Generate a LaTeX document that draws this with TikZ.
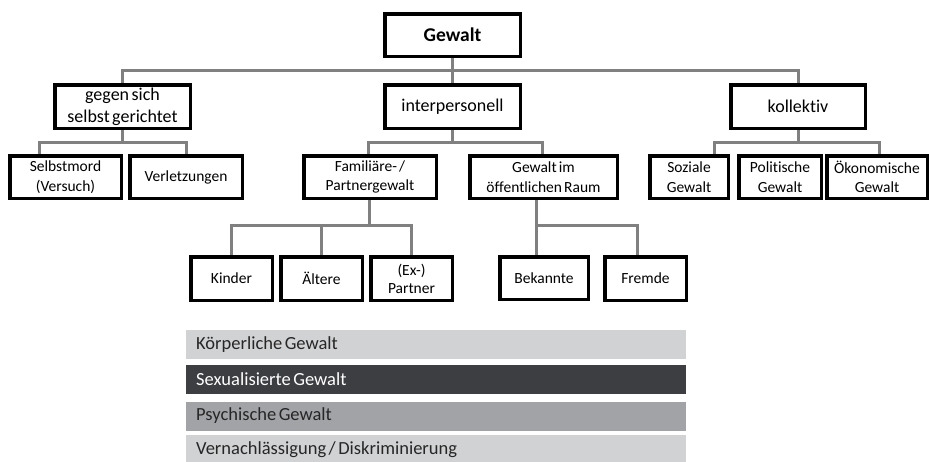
\documentclass[tikz,border=0pt]{standalone}
\usepackage{fontspec}
\setmainfont{Carlito}[Ligatures=NoCommon, WordSpace=0.6]
\usepackage{xcolor}
\usetikzlibrary{positioning, calc, backgrounds}
\definecolor{linkgray}{HTML}{808080}
\definecolor{barlight}{HTML}{D1D2D4}
\definecolor{bardark}{HTML}{3D3E42}
\definecolor{barmid}{HTML}{A1A3A6}
\definecolor{bartext}{HTML}{262626}

\begin{document}
\begin{tikzpicture}[
  x=1pt, y=-1pt,
  typbox/.style={rectangle, draw=black, line width=3.5pt, fill=white, align=center, inner sep=2pt, minimum width=#1-3.5pt, minimum height=42.5pt, font=\fontsize{15.5}{19.5}\selectfont},
  headbox/.style={typbox=#1, minimum height=43.5pt, font=\fontsize{18}{22}\selectfont},
  link/.style={draw=linkgray, line width=3pt},
  formbar/.style={rectangle, fill=#1, anchor=west, minimum width=500pt, minimum height=29pt, text width=480pt, inner xsep=10pt, align=flush left, font=\fontsize{18.5}{21}\selectfont},
]
\useasboundingbox (0,0) rectangle (929,461);

\node[headbox=139pt, minimum height=42.5pt, font=\fontsize{19.5}{22}\selectfont\bfseries] (gewalt) at (452.5, 35) {Gewalt};

% Ebene 1
\node[headbox=139pt] (selbst) at (122.5, 106.5) {gegen sich\\selbst gerichtet};
\node[headbox=139pt] (inter) at (452.5, 106.5) {interpersonell};
\node[headbox=138pt] (kollek) at (798, 106.5) {kollektiv};

% Ebene 2
\node[typbox=115pt] (smord) at (65.5, 177) {Selbstmord\\(Versuch)};
\node[typbox=116pt] (verl) at (186, 177) {Verletzungen};
\node[typbox=136pt] (famil) at (370, 177) {Familiäre- /\\Partnergewalt};
\node[typbox=151pt] (oeff) at (543.5, 177) {Gewalt im\\öffentlichen Raum};
\node[typbox=82pt] (sozial) at (689, 177) {Soziale\\Gewalt};
\node[typbox=86pt] (polit) at (780, 177) {Politische\\Gewalt};
\node[typbox=104pt] (oekon) at (877, 177) {Ökonomische\\Gewalt};

% Ebene 3
\node[typbox=85pt, minimum height=43.5pt] (kinder) at (231.5, 278.5) {Kinder};
\node[typbox=85pt, minimum height=43.5pt] (aelt) at (321.5, 278.5) {Ältere};
\node[typbox=85pt, minimum height=43.5pt, font=\fontsize{15.5}{18}\selectfont] (partner) at (411.5, 278.5) {(Ex-)\\Partner};
\node[typbox=92pt] (bek) at (544, 278) {Bekannte};
\node[typbox=85pt, minimum height=43.5pt] (fremde) at (645.5, 278.5) {Fremde};

% Verbindungen
\begin{scope}[on background layer]
\draw[link] (gewalt.south) -- (inter.north);
\coordinate (j0) at ($(gewalt.south)!0.5!(inter.north)$);
\draw[link] (selbst.north) |- (j0) -| (kollek.north);

\draw[link] (selbst.south) -- ++(0,12) coordinate (j1);
\draw[link] ([xshift=-26pt]smord.north) |- (j1) -| (verl.north);

\draw[link] (inter.south) -- ++(0,12) coordinate (j2);
\draw[link] ([xshift=-2pt]famil.north) |- (j2) -| ([xshift=-1.5pt]oeff.north);

\draw[link] (kollek.south) -- ++(0,12) coordinate (j3);
\draw[link] ([xshift=25pt]sozial.north) |- (j3) -| ([xshift=2pt]oekon.north);

\draw[link] ([xshift=-1pt]famil.south) -- ++(0,25) coordinate (j4);
\draw[link] (kinder.north) |- (j4) -| (partner.north);
\draw[link] (aelt.north) -- (aelt.north |- j4);

\draw[link] ([xshift=-8pt]bek.north) -- ([xshift=-8pt]bek.north |- oeff.south);
\draw[link] ([xshift=-8pt]bek.north |- j4) -| ([xshift=-8pt]fremde.north);
\end{scope}

% Formen der Gewalt
\node[formbar=barlight, text=bartext] (koerper) at (186, 344.5) {Körperliche Gewalt};
\node[formbar=bardark, text=white] (sexual) at (186, 379.5) {Sexualisierte Gewalt};
\node[formbar=barmid, text=bartext] (psych) at (186, 416) {Psychische Gewalt};
\node[formbar=barlight, text=bartext] (vernach) at (186, 449.5) {Vernachlässigung / Diskriminierung};

\end{tikzpicture}
\end{document}
